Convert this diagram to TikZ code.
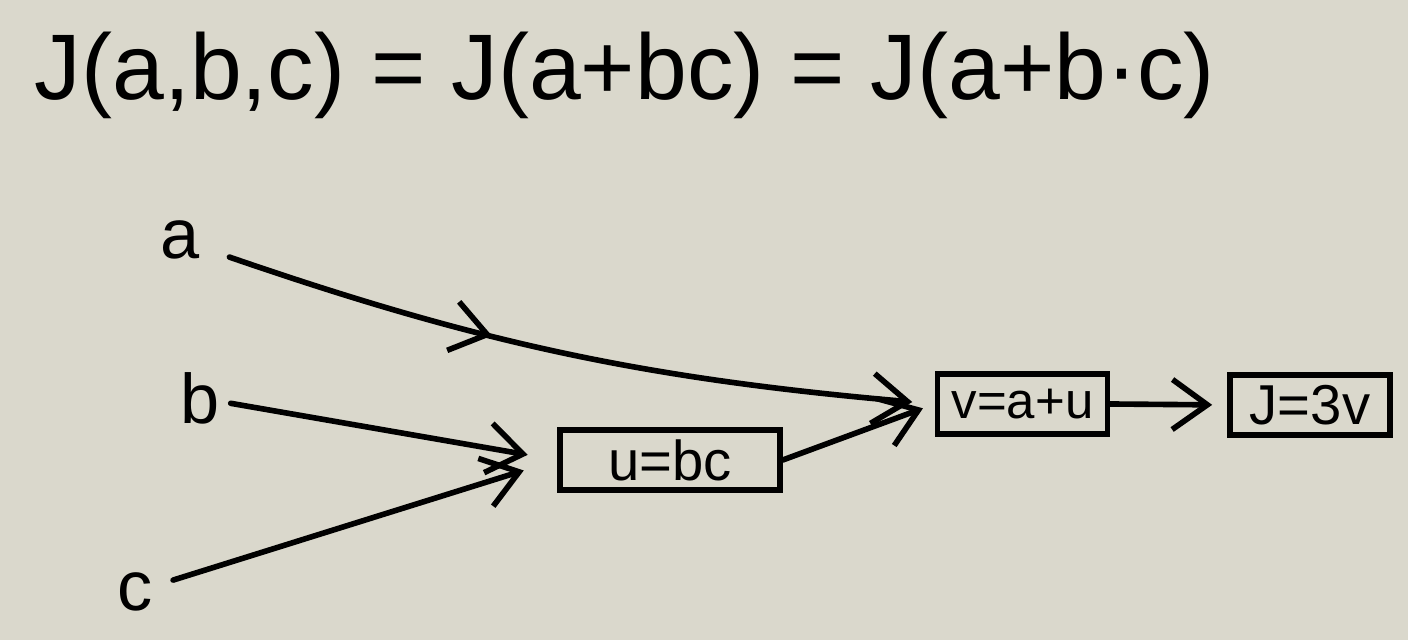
\documentclass[tikz,border=0pt]{standalone}
\usepackage{fontspec}
\setmainfont{Liberation Sans}
\usepackage{xcolor}
\usetikzlibrary{positioning, arrows.meta, decorations.markings}
\definecolor{paper}{HTML}{DAD8CC}

\tikzset{
  box/.style={draw, line width=3.2pt, inner sep=0pt, minimum height=1.2cm,
              font=\fontsize{32}{36}\selectfont},
  var/.style={font=\fontsize{40}{44}\selectfont},
  link/.style={line width=3.2pt, line cap=round,
               -{Straight Barb[length=0.7cm, width=1cm, line width=3.2pt]}},
  midarrow/.style={postaction={decorate},
    decoration={markings, mark=at position 0.4 with
      {\arrow{Straight Barb[length=0.7cm, width=1cm, line width=3.2pt]}}}}
}

\begin{document}
\begin{tikzpicture}
    \fill[paper] (0,0) rectangle (28.16,12.8);
    \useasboundingbox (0,0) rectangle (28.16,12.8);

    \node[font=\fontsize{53}{60}\selectfont] (cost) at (12.5,11.3)
      {J(a,b,c) = J(a+bc) = J(a+b·c)};

    \node[var] (a) at (3.6,8.0) {a};
    \node[var] (b) at (4.0,4.84) {b};
    \node[var] (c) at (2.7,0.96) {c};

    \node[box, minimum width=4.4cm] (u) at (13.4,3.6) {u=bc};
    \node[box, minimum width=3.4cm, font=\fontsize{29}{34}\selectfont] (v) at (20.45,4.72) {v=a+u};
    \node[box, minimum width=3.2cm] (J) at (26.2,4.7) {J=3v};

    \draw[link, midarrow, shorten <=0.5cm, shorten >=0.45cm] (a) to[bend right=7] (v.west);
    \draw[link, shorten <=0.1cm, shorten >=0.6cm] (b) -- (u.west);
    \draw[link, shorten <=0.3cm, shorten >=0.7cm] (c) -- (u.west);
    \draw[link, shorten >=0.25cm] (u.east) -- (v.west);
    \draw[link, shorten >=0.3cm] (v.east) -- (J.west);
\end{tikzpicture}
\end{document}
